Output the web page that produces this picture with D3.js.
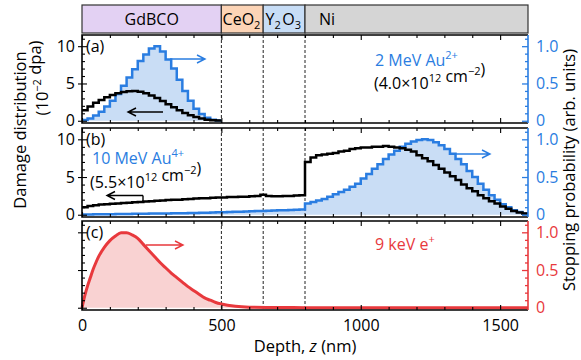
<!DOCTYPE html>
<html>
<head>
<meta charset="utf-8">
<script src="https://cdn.jsdelivr.net/npm/d3@7"></script>
<style>
  body { margin: 0; background: #fff; }
  text { font-family: "Open Sans", sans-serif; }
</style>
</head>
<body>
<div id="chart"></div>
<script>
// layer stack on top
const layerNames = ['GdBCO', 'CeO2', 'Y2O3', 'Ni'];
const layerEdges = [0, 500, 650, 800, 1600];

// histograms use 20 nm bins starting at 0
const binWidth = 20;

// (a) 2 MeV Au2+
const auLowStop = [0.01, 0.03, 0.07, 0.12, 0.19, 0.27, 0.36, 0.47, 0.58, 0.69, 0.80, 0.89, 0.97, 1.00, 0.93,
  0.82, 0.70, 0.55, 0.40, 0.27, 0.16, 0.09, 0.04, 0.015, 0.005];
const auLowDamage = [1.4, 1.9, 2.4, 2.8, 3.15, 3.45, 3.7, 3.85, 3.95, 4.0, 3.9, 3.7, 3.4, 3.05, 2.65,
  2.2, 1.8, 1.4, 1.05, 0.75, 0.5, 0.3, 0.15, 0.07, 0.02];

// (b) 10 MeV Au4+
const auHighStop = [
  0.003, 0.004, 0.005, 0.006, 0.007, 0.008, 0.009, 0.010, 0.011, 0.012,
  0.013, 0.014, 0.015, 0.016, 0.017, 0.018, 0.019, 0.020, 0.021, 0.022,
  0.024, 0.026, 0.028, 0.030, 0.032, 0.034, 0.036, 0.038, 0.040, 0.042,
  0.045, 0.048, 0.050, 0.053, 0.056, 0.058, 0.061, 0.064, 0.067, 0.070,
  0.15, 0.17, 0.19, 0.21, 0.24, 0.27, 0.30, 0.33, 0.37, 0.41,
  0.48, 0.54, 0.61, 0.67, 0.74, 0.80, 0.85, 0.90, 0.94, 0.97,
  0.99, 1.00, 0.99, 0.96, 0.92, 0.87, 0.81, 0.74, 0.67, 0.58,
  0.50, 0.41, 0.33, 0.26, 0.20, 0.14, 0.10, 0.06, 0.035, 0.015];
const auHighDamage = [
  1.0, 1.15, 1.25, 1.35, 1.4, 1.45, 1.5, 1.55, 1.6, 1.65,
  1.7, 1.75, 1.8, 1.85, 1.9, 1.95, 2.0, 2.0, 2.05, 2.1,
  2.15, 2.2, 2.2, 2.25, 2.3, 2.3, 2.35, 2.35, 2.4, 2.4,
  2.45, 2.5, 2.65, 2.5, 2.45, 2.45, 2.5, 2.5, 2.55, 2.6,
  7.0, 7.6, 7.9, 8.0, 8.1, 8.2, 8.4, 8.5, 8.7, 8.8,
  8.9, 8.9, 9.0, 9.0, 9.1, 9.0, 8.9, 8.8, 8.6, 8.4,
  7.9, 7.5, 7.1, 6.6, 6.1, 5.6, 5.1, 4.6, 4.0, 3.5,
  3.1, 2.6, 2.2, 1.8, 1.5, 1.1, 0.8, 0.5, 0.3, 0.15];

// (c) 9 keV e+
const posDepth = [0, 10, 20, 30, 40, 50, 60, 80, 100, 120, 140, 160, 180, 200, 220, 240, 260, 280, 300,
  320, 340, 360, 380, 400, 420, 440, 460, 480, 500, 550, 600, 700, 800, 1000, 1600];
const posStop = [0, 0.16, 0.29, 0.40, 0.51, 0.60, 0.68, 0.80, 0.89, 0.95, 0.995, 0.995, 0.965, 0.92, 0.84, 0.76, 0.68, 0.60, 0.53,
  0.46, 0.40, 0.34, 0.28, 0.23, 0.18, 0.13, 0.10, 0.07, 0.05, 0.02, 0.008, 0.003, 0.001, 0, 0];

const depthTicks = [0, 500, 1000, 1500];
const damageTicks = [0, 5, 10];
const probTicks = [0, 0.5, 1.0];
const dashDepths = [500, 650, 800];

const width = 581, height = 360;
const blue = '#2a7de1', blueFill = '#c9ddf5';
const red = '#e8393d', redFill = '#f9d2d2';
const layerFills = ['#e3d1f3', '#fcd4b6', '#c7ddf6', '#d5d5d5'];

const svg = d3.select('#chart').append('svg')
  .attr('width', width).attr('height', height);

const x = d3.scaleLinear().domain([0, 1600]).range([82, 528]);

// turn binned values into step points (plus closing edge)
function toSteps(vals) {
  const pts = vals.map((v, i) => [i * binWidth, v]);
  pts.push([vals.length * binWidth, vals[vals.length - 1]]);
  return pts;
}

// ---- layer bar ----
const bar = svg.append('g');
layerNames.forEach((name, i) => {
  bar.append('rect')
    .attr('x', x(layerEdges[i])).attr('y', 5)
    .attr('width', x(layerEdges[i + 1]) - x(layerEdges[i])).attr('height', 28)
    .attr('fill', layerFills[i]).attr('stroke', '#333').attr('stroke-width', 1.2);
});
function chem(g, xPos, y, parts, anchor) {
  const t = g.append('text').attr('x', xPos).attr('y', y)
    .attr('text-anchor', anchor).style('font-size', '16px');
  parts.forEach(p => {
    if (p.sub) {
      t.append('tspan').attr('dy', 4).style('font-size', '11px').text(p.t);
      t.append('tspan').attr('dy', -4).text('\u200a');
    } else {
      t.append('tspan').text(p.t);
    }
  });
}
chem(bar, (x(0) + x(500)) / 2, 25, [{ t: 'GdBCO' }], 'middle');
chem(bar, (x(500) + x(650)) / 2, 25, [{ t: 'CeO' }, { t: '2', sub: true }], 'middle');
chem(bar, (x(650) + x(800)) / 2, 25, [{ t: 'Y' }, { t: '2', sub: true }, { t: 'O' }, { t: '3', sub: true }], 'middle');
chem(bar, x(800) + 14, 25, [{ t: 'Ni' }], 'start');

// ---- panels ----
const panels = [
  { key: 'a', top: 35, bottom: 123, rightColor: blue, labels: true },
  { key: 'b', top: 128, bottom: 217, rightColor: blue, labels: true },
  { key: 'c', top: 221, bottom: 310, rightColor: red, labels: false }
];

panels.forEach(p => {
  p.yR = d3.scaleLinear().domain([-0.03, 1.15]).range([p.bottom, p.top]);
  p.yL = d3.scaleLinear().domain([-0.3, 11.5]).range([p.bottom, p.top]);
  p.g = svg.append('g');
});

function drawStops(p, vals, lineColor, fillColor) {
  const pts = toSteps(vals);
  p.g.append('path').datum(pts)
    .attr('fill', fillColor)
    .attr('d', d3.area().curve(d3.curveStepAfter)
      .x(d => x(d[0])).y0(p.yR(0)).y1(d => p.yR(d[1])));
  return pts;
}
function drawLine(p, pts, scale, color, w, curve) {
  p.g.append('path').datum(pts)
    .attr('fill', 'none').attr('stroke', color).attr('stroke-width', w)
    .attr('stroke-linejoin', 'miter')
    .attr('d', d3.line().curve(curve).x(d => x(d[0])).y(d => scale(d[1])));
}

// fills first
const ptsA = drawStops(panels[0], auLowStop, blue, blueFill);
const ptsB = drawStops(panels[1], auHighStop, blue, blueFill);
const posPts = posDepth.map((d, i) => [d, posStop[i]]);
panels[2].g.append('path').datum(posPts)
  .attr('fill', redFill)
  .attr('d', d3.area().curve(d3.curveMonotoneX)
    .x(d => x(d[0])).y0(panels[2].yR(0)).y1(d => panels[2].yR(d[1])));

// dashed layer boundaries
panels.forEach(p => {
  dashDepths.forEach(d => {
    p.g.append('line')
      .attr('x1', x(d)).attr('x2', x(d)).attr('y1', p.top).attr('y2', p.bottom)
      .attr('stroke', '#222').attr('stroke-width', 1).attr('stroke-dasharray', '3,2');
  });
});

// curves
drawLine(panels[0], ptsA, panels[0].yR, blue, 2.5, d3.curveStepAfter);
drawLine(panels[0], toSteps(auLowDamage), panels[0].yL, '#000', 2.5, d3.curveStepAfter);
drawLine(panels[1], ptsB, panels[1].yR, blue, 2.5, d3.curveStepAfter);
drawLine(panels[1], toSteps(auHighDamage), panels[1].yL, '#000', 2.5, d3.curveStepAfter);
drawLine(panels[2], posPts, panels[2].yR, red, 3, d3.curveMonotoneX);

// axes and frames
panels.forEach((p, i) => {
  const g = p.g;
  const last = i === panels.length - 1;
  const minorDepth = d3.range(100, 1600, 100).filter(v => v % 500);
  // bottom
  g.append('g').attr('transform', `translate(0,${p.bottom})`)
    .call(d3.axisBottom(x).tickValues(depthTicks).tickSizeInner(-5).tickSizeOuter(0).tickPadding(10)
      .tickFormat(last ? d3.format('d') : () => ''));
  g.append('g').attr('transform', `translate(0,${p.bottom})`)
    .call(d3.axisBottom(x).tickValues(minorDepth).tickSizeInner(-3).tickSizeOuter(0).tickFormat(''));
  // top
  g.append('g').attr('transform', `translate(0,${p.top})`)
    .call(d3.axisTop(x).tickValues(depthTicks).tickSizeInner(-5).tickSizeOuter(0).tickFormat(''));
  g.append('g').attr('transform', `translate(0,${p.top})`)
    .call(d3.axisTop(x).tickValues(minorDepth).tickSizeInner(-3).tickSizeOuter(0).tickFormat(''));
  // left
  g.append('g').attr('transform', `translate(${x(0)},0)`)
    .call(d3.axisLeft(p.yL).tickValues(damageTicks).tickSizeInner(4).tickSizeOuter(0).tickPadding(3)
      .tickFormat(p.labels ? d3.format('d') : () => ''));
  g.append('g').attr('transform', `translate(${x(0)},0)`)
    .call(d3.axisLeft(p.yL).tickValues(damageTicks).tickSizeInner(-5).tickSizeOuter(0).tickFormat(''));
  g.append('g').attr('transform', `translate(${x(0)},0)`)
    .call(d3.axisLeft(p.yL).tickValues(d3.range(1, 12).filter(v => v % 5)).tickSizeInner(-3).tickSizeOuter(0).tickFormat(''));
  // right
  g.append('g').attr('class', 'right').attr('transform', `translate(${x(1600)},0)`)
    .call(d3.axisRight(p.yR).tickValues(probTicks).tickSizeInner(-6).tickSizeOuter(0).tickPadding(8)
      .tickFormat(d => d === 0 ? '0' : d3.format('.1f')(d)));
  g.append('g').attr('class', 'right').attr('transform', `translate(${x(1600)},0)`)
    .call(d3.axisRight(p.yR).tickValues(d3.range(0.1, 1.15, 0.1).filter(v => Math.abs(v - 0.5) > 0.01 && Math.abs(v - 1) > 0.01))
      .tickSizeInner(-3).tickSizeOuter(0).tickFormat(''));
  g.selectAll('.right line').attr('stroke', p.rightColor).attr('stroke-width', 1.3);
  g.selectAll('.right text').attr('fill', p.rightColor);
  g.selectAll('.domain').remove();
  g.selectAll('.tick line').filter(function () { return !this.closest('.right'); })
    .attr('stroke', '#000').attr('stroke-width', 1.1);
  g.selectAll('.tick text').style('font-size', '16px').style('font-family', '"Open Sans", sans-serif');

  // frame
  g.append('path')
    .attr('d', `M${x(1600)},${p.top}H${x(0)}V${p.bottom}H${x(1600)}`)
    .attr('fill', 'none').attr('stroke', '#000').attr('stroke-width', 1.6);
  g.append('line')
    .attr('x1', x(1600)).attr('x2', x(1600)).attr('y1', p.top).attr('y2', p.bottom)
    .attr('stroke', p.rightColor).attr('stroke-width', 1.6);

  g.append('text').attr('x', x(0) + 4).attr('y', p.top + 17)
    .style('font-size', '16px').text(`(${p.key})`);
});

// ---- annotations ----
function arrow(g, x1, x2, y, color) {
  const dir = x2 > x1 ? 1 : -1;
  g.append('path')
    .attr('d', `M${x1},${y}H${x2}M${x2 - dir * 8},${y - 4}L${x2},${y}L${x2 - dir * 8},${y + 4}`)
    .attr('fill', 'none').attr('stroke', color).attr('stroke-width', 1.4);
}
const pa = panels[0], pb = panels[1], pc = panels[2];
arrow(pa.g, 170, 205, 59, blue);
arrow(pa.g, 163, 128, 112, '#000');
arrow(pb.g, 453, 490, 154, blue);
arrow(pb.g, 143, 107, 195.5, '#000');
pb.g.append('line').attr('x1', 143).attr('x2', 143).attr('y1', 195.5).attr('y2', 201)
  .attr('stroke', '#000').attr('stroke-width', 1.4);
arrow(pc.g, 146, 183, 245, red);

function supText(g, xPos, y, color, parts, anchor) {
  const t = g.append('text').attr('x', xPos).attr('y', y).attr('fill', color)
    .attr('text-anchor', anchor || 'start').style('font-size', '16px');
  parts.forEach(p => {
    if (p.sup) {
      t.append('tspan').attr('dy', -7).style('font-size', '11px').text(p.t);
      t.append('tspan').attr('dy', 7).text('');
    } else {
      t.append('tspan').text(p.t);
    }
  });
  return t;
}
supText(pa.g, 375, 66, blue, [{ t: '2 MeV Au' }, { t: '2+', sup: true }]);
supText(pa.g, 374, 89, '#000', [{ t: '(4.0\u00d710' }, { t: '12', sup: true }, { t: ' cm' }, { t: '\u22122', sup: true }, { t: ')' }]);
supText(pb.g, 92, 164, blue, [{ t: '10 MeV Au' }, { t: '4+', sup: true }]);
supText(pb.g, 90, 188, '#000', [{ t: '(5.5\u00d710' }, { t: '12', sup: true }, { t: ' cm' }, { t: '\u22122', sup: true }, { t: ')' }]);
supText(pc.g, 375, 250, red, [{ t: '9 keV e' }, { t: '+', sup: true }]);

// ---- axis titles ----
svg.append('text')
  .attr('transform', 'translate(26,130) rotate(-90)')
  .attr('text-anchor', 'middle').style('font-size', '16.5px')
  .text('Damage distribution');
supText(svg, 0, 0, '#000', [{ t: '(10' }, { t: '\u22122', sup: true }, { t: ' dpa)' }], 'middle')
  .attr('transform', 'translate(48,78) rotate(-90)').style('font-size', '16.5px');
svg.append('text')
  .attr('transform', 'translate(575,170) rotate(-90)')
  .attr('text-anchor', 'middle').style('font-size', '16.5px')
  .text('Stopping probability (arb. units)');
const xt = svg.append('text').attr('x', 305).attr('y', 352)
  .attr('text-anchor', 'middle').style('font-size', '16.5px');
xt.append('tspan').text('Depth, ');
xt.append('tspan').style('font-style', 'italic').text('z');
xt.append('tspan').text(' (nm)');
</script>
</body>
</html>
